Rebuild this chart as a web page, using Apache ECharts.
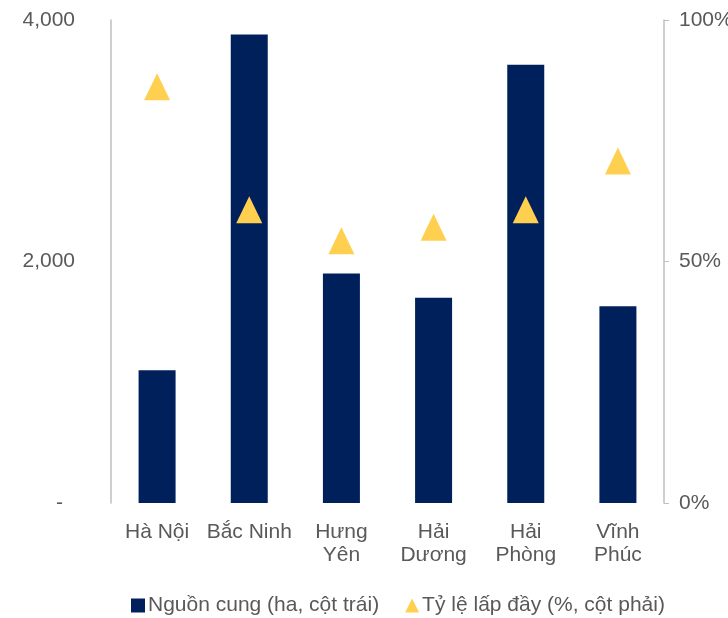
<!DOCTYPE html>
<html><head><meta charset="utf-8">
<script src="https://cdn.jsdelivr.net/npm/echarts@6/dist/echarts.min.js"></script>
<style>html,body{margin:0;padding:0;background:#fff}#c{width:728px;height:618px}</style>
</head><body><div id="c"></div>
<script>
const categories = ["Hà Nội", "Bắc Ninh", "Hưng\nYên", "Hải\nDương", "Hải\nPhòng", "Vĩnh\nPhúc"];
const supply = [1100, 3880, 1900, 1700, 3630, 1630];
const occupancy = [86.2, 60.7, 54.3, 57.1, 60.7, 70.8];
const supplyName = "Nguồn cung (ha, cột trái)";
const occName = "Tỷ lệ lấp đầy (%, cột phải)";

const font = "'Liberation Sans', Arial, sans-serif";
const txt = "#595959";
const fs = 21;
const chart = echarts.init(document.getElementById('c'), null, {renderer: 'canvas'});
chart.setOption({
  animation: false,
  textStyle: {fontFamily: font},
  grid: {left: 111, right: 64, top: 20, bottom: 115, containLabel: false, outerBoundsMode: 'none'},
  legend: {
    left: 126, top: 590, itemWidth: 14, itemHeight: 14, itemGap: 26,
    textStyle: {fontFamily: font, fontSize: fs, color: txt, padding: [0,0,0,-2]},
    data: [{name: supplyName, icon: 'rect'}, {name: occName, icon: 'triangle'}]
  },
  xAxis: {
    type: 'category', data: categories,
    axisLine: {show: false}, axisTick: {show: false},
    axisLabel: {color: txt, fontSize: fs, lineHeight: 23, margin: 18, interval: 0, fontFamily: font}
  },
  yAxis: [{
    type: 'value', min: 0, max: 4000, interval: 2000,
    axisLine: {show: true, lineStyle: {color: '#BFBFBF', width: 1.5}},
    axisTick: {show: false}, splitLine: {show: false},
    axisLabel: {color: txt, fontSize: fs, margin: 36, fontFamily: font,
      formatter: v => v === 0 ? '{d|-}' : v.toLocaleString('en-US'),
      rich: {d: {fontSize: fs, color: txt, fontFamily: font, padding: [0, 12, 0, 0]}}}
  }, {
    type: 'value', min: 0, max: 100, interval: 50, position: 'right',
    axisLine: {show: true, lineStyle: {color: '#BFBFBF', width: 1.5}},
    axisTick: {show: true, inside: false, length: 5, lineStyle: {color: '#BFBFBF'}},
    splitLine: {show: false},
    axisLabel: {color: txt, fontSize: fs, margin: 15, fontFamily: font, formatter: '{value}%'}
  }],
  series: [{
    name: supplyName, type: 'bar', data: supply, yAxisIndex: 0,
    barWidth: 37, itemStyle: {color: '#00205B'}
  }, {
    name: occName, type: 'scatter', data: occupancy, yAxisIndex: 1,
    symbol: 'triangle', symbolSize: [26, 27], itemStyle: {color: '#FFD04F', opacity: 1}
  }]
});
</script></body></html>
